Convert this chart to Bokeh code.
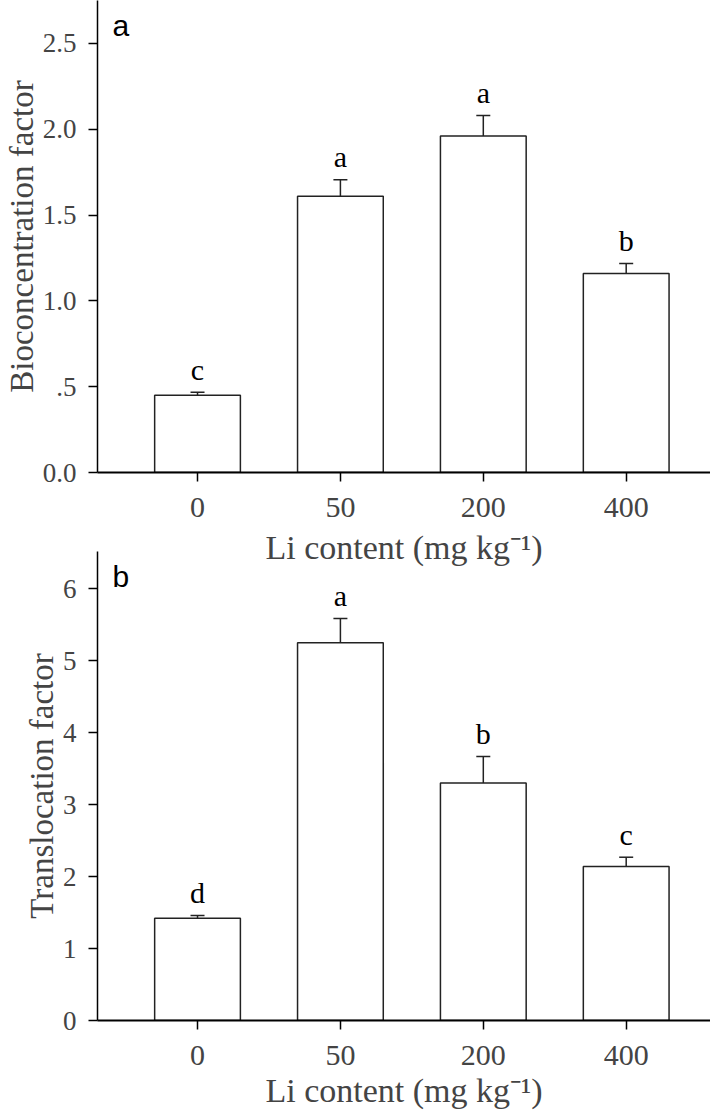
from bokeh.plotting import figure
from bokeh.layouts import column
from bokeh.models import Range1d, FixedTicker, Whisker, TeeHead, ColumnDataSource, Label
from bokeh.core.properties import value
from bokeh.embed import file_html
from bokeh.resources import INLINE

# ---- data ----
li_levels = ["0", "50", "200", "400"]
bcf_mean = [0.45, 1.61, 1.96, 1.16]
bcf_err = [0.017, 0.095, 0.12, 0.057]
bcf_letters = ["c", "a", "a", "b"]
tf_mean = [1.42, 5.25, 3.30, 2.14]
tf_err = [0.04, 0.34, 0.37, 0.13]
tf_letters = ["d", "a", "b", "c"]
bcf_ticks = [0, 0.5, 1.0, 1.5, 2.0, 2.5]
bcf_tick_labels = ["0.0", ".5", "1.0", "1.5", "2.0", "2.5"]
tf_ticks = [0, 1, 2, 3, 4, 5, 6]
tf_tick_labels = ["0", "1", "2", "3", "4", "5", "6"]
x_title = "Li content (mg kg\u207b\u00b9)"

SERIF = "Liberation Serif"
SANS = "Liberation Sans"


def make_panel(mean, err, letters, ticks, tick_labels, ymax, ylabel, tag,
               height, border_top, border_bottom, title_standoff):
    idx = list(range(len(li_levels)))
    src = ColumnDataSource(dict(
        x=idx, top=mean,
        upper=[m + e for m, e in zip(mean, err)],
        letter=letters,
    ))
    p = figure(width=710, height=height, output_backend="svg",
               toolbar_location=None,
               x_range=Range1d(-0.7, 3.59), y_range=Range1d(0, ymax),
               min_border_left=91, min_border_right=0,
               min_border_top=border_top, min_border_bottom=border_bottom)
    p.outline_line_color = None
    p.grid.visible = False
    p.background_fill_color = None
    p.border_fill_color = None

    p.vbar(x="x", top="top", width=0.6, bottom=0, source=src,
           fill_color="white", line_color="#222222", line_width=1.5)
    p.add_layout(Whisker(base="x", lower="top", upper="upper", source=src,
                         line_color="#222222", line_width=1.5,
                         upper_head=TeeHead(size=14, line_color="#222222", line_width=1.5),
                         lower_head=None))
    p.text(x="x", y="upper", text="letter", source=src,
           text_align="center", text_baseline="middle", y_offset=-23,
           text_font=value(SERIF), text_font_size="30px", text_color="black")

    p.add_layout(Label(x=p.x_range.start, y=p.y_range.end, x_offset=15, y_offset=-25,
                       text=tag, text_font=SANS, text_font_size="30px",
                       text_baseline="alphabetic", text_color="black"))

    xa = p.xaxis[0]
    xa.ticker = FixedTicker(ticks=idx)
    xa.major_label_overrides = {i: lab for i, lab in zip(idx, li_levels)}
    xa.minor_tick_line_color = None
    xa.major_tick_in = 0
    xa.major_tick_out = 9
    xa.axis_line_width = 2
    xa.major_tick_line_width = 1.5
    xa.major_label_text_font = SERIF
    xa.major_label_text_font_size = "30px"
    xa.major_label_standoff = 16
    xa.axis_label = x_title
    xa.axis_label_text_font = SERIF
    xa.axis_label_text_font_size = "34px"
    xa.axis_label_text_font_style = "normal"
    xa.axis_label_standoff = title_standoff

    ya = p.yaxis[0]
    ya.ticker = FixedTicker(ticks=ticks)
    ya.major_label_overrides = {t: lab for t, lab in zip(ticks, tick_labels)}
    ya.minor_tick_line_color = None
    ya.major_tick_in = 0
    ya.major_tick_out = 9
    ya.axis_line_width = 1.5
    ya.major_tick_line_width = 1.5
    ya.major_label_text_font = SERIF
    ya.major_label_text_font_size = "27px"
    ya.major_label_standoff = 12
    ya.axis_label = ylabel
    ya.axis_label_text_font = SERIF
    ya.axis_label_text_font_size = "33px"
    ya.axis_label_text_font_style = "normal"
    ya.axis_label_standoff = 0
    return p


pa = make_panel(bcf_mean, bcf_err, bcf_letters, bcf_ticks, bcf_tick_labels,
                2.75, "Bioconcentration factor", "a", 570, 0, 98, 9)
pb = make_panel(tf_mean, tf_err, tf_letters, tf_ticks, tf_tick_labels,
                6.52, "Translocation factor", "b", 566, 6, 88, 4)
pb.margin = (-25, 0, 0, 0)

layout = column(pa, pb, spacing=0)
open("out.html", "w").write(file_html(layout, INLINE))
